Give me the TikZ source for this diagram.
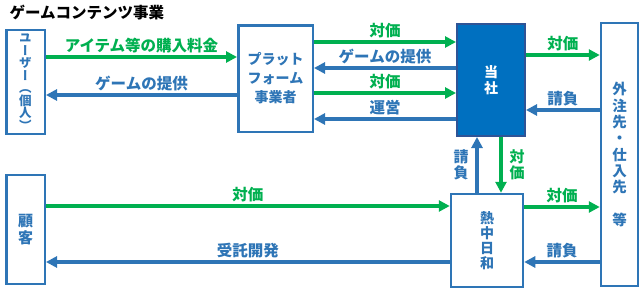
\documentclass[tikz,border=0pt]{standalone}
\usepackage{fontspec}
\setmainfont{Noto Sans CJK JP}
\newfontfamily\jpvert{Noto Sans CJK JP}[RawFeature=+vert]
\usetikzlibrary{arrows.meta}
\definecolor{grn}{RGB}{0,176,80}
\definecolor{blu}{RGB}{46,117,182}
\definecolor{navy}{RGB}{47,84,150}
\definecolor{toshablue}{RGB}{0,112,192}

\begin{document}
\begin{tikzpicture}[x=1pt, y=-1pt,
	box/.style={draw=blu, line width=2.5pt, text=blu, align=center, inner sep=0pt},
	garrow/.style={-{Triangle[length=11pt,width=11pt]}, draw=grn, line width=3.5pt},
	barrow/.style={-{Triangle[length=11pt,width=11pt]}, draw=blu, line width=3.5pt},
	glbl/.style={midway, yshift=11pt, text=grn, font=\bfseries\fontsize{15.5}{15.5}\selectfont},
	blbl/.style={midway, yshift=11pt, text=blu, font=\bfseries\fontsize{15.5}{15.5}\selectfont},
	vlbl/.style={midway, align=center, font=\bfseries\fontsize{15}{16}\selectfont}]

	\useasboundingbox (0,0) rectangle (641,289);

	%title
	\node[anchor=west, font=\bfseries\fontsize{15.5}{15.5}\selectfont] (title) at (6,13) {ゲームコンテンツ事業};

	%boxes
	\node[box, minimum width=38.5pt, minimum height=104pt, font=\jpvert\bfseries\fontsize{12.5}{12.5}\selectfont] (user) at (25.5,82) {ユ\\ー\\ザ\\ー\\（\\個\\人\\）};
	\node[box, minimum width=74.5pt, minimum height=106.5pt, font=\bfseries\fontsize{14}{19}\selectfont] (plat) at (275.5,78.5) {プラット\\フォーム\\事業者};
	\node[box, draw=navy, fill=toshablue, text=white, line width=2pt, minimum width=68pt, minimum height=112pt, font=\bfseries\fontsize{14}{16}\selectfont] (tosha) at (491,80) {当\\社};
	\node[box, minimum width=37pt, minimum height=263pt, font=\bfseries\fontsize{14.5}{16.3}\selectfont] (gaichu) at (619.5,154.5) {外\\注\\先\\・\\仕\\入\\先\\[16.3pt]等};
	\node[box, minimum width=38.5pt, minimum height=109pt, font=\bfseries\fontsize{15}{17}\selectfont] (kokyaku) at (25.5,229.5) {顧\\客};
	\node[box, minimum width=72pt, minimum height=93pt, font=\bfseries\fontsize{14}{15}\selectfont] (nechu) at (487,240.5) {熱\\中\\日\\和};

	%game business
	\draw[garrow] (user.east |- 0,57) -- (plat.west |- 0,57) node[glbl] {アイテム等の購入料金};
	\draw[barrow] (plat.west |- 0,95) -- (user.east |- 0,95) node[blbl] {ゲームの提供};
	\draw[garrow] (plat.east |- 0,42) -- (tosha.west |- 0,42) node[glbl] {対価};
	\draw[barrow] (tosha.west |- 0,68) -- (plat.east |- 0,68) node[blbl] {ゲームの提供};
	\draw[garrow] (plat.east |- 0,93) -- (tosha.west |- 0,93) node[glbl] {対価};
	\draw[barrow] (tosha.west |- 0,119) -- (plat.east |- 0,119) node[blbl] {運営};
	\draw[garrow] (tosha.east |- 0,55) -- (gaichu.west |- 0,55) node[glbl] {対価};
	\draw[barrow] (gaichu.west |- 0,110) -- (tosha.east |- 0,110) node[blbl] {請負};

	%nechu biyori
	\draw[barrow] (nechu.north -| 477,0) -- (tosha.south -| 477,0) node[vlbl, text=blu, xshift=-16pt] {請\\負};
	\draw[garrow] (tosha.south -| 501,0) -- (nechu.north -| 501,0) node[vlbl, text=grn, xshift=16pt] {対\\価};
	\draw[garrow] (kokyaku.east |- 0,206) -- (nechu.west |- 0,206) node[glbl] {対価};
	\draw[barrow] (nechu.west |- 0,262) -- (kokyaku.east |- 0,262) node[blbl] {受託開発};
	\draw[garrow] (nechu.east |- 0,207) -- (gaichu.west |- 0,207) node[glbl] {対価};
	\draw[barrow] (gaichu.west |- 0,262) -- (nechu.east |- 0,262) node[blbl] {請負};

\end{tikzpicture}
\end{document}
